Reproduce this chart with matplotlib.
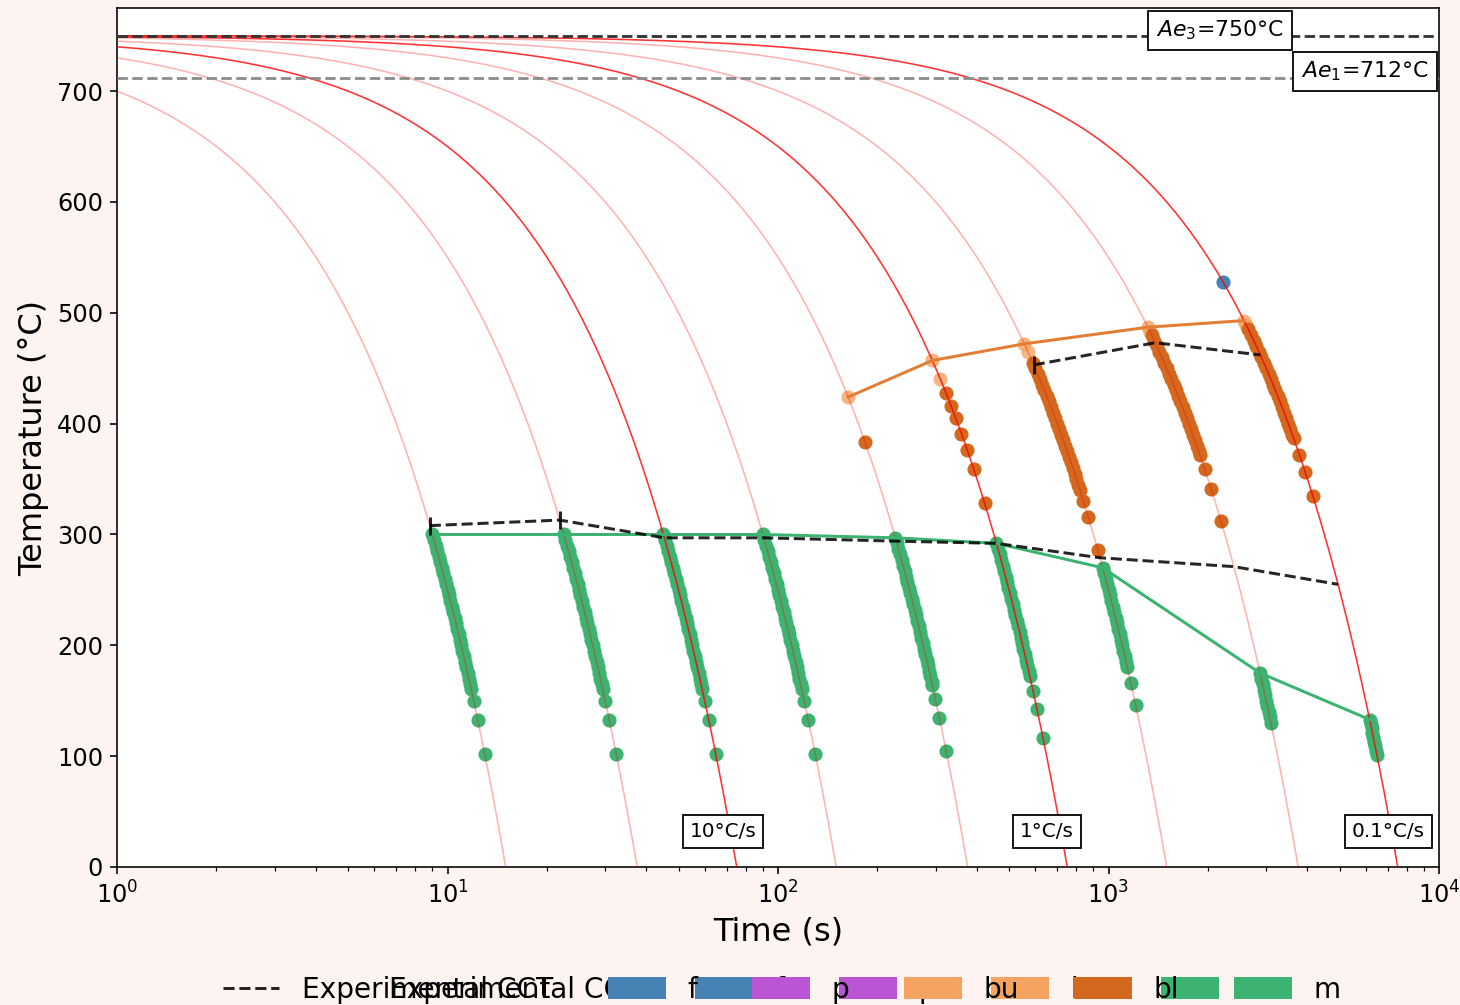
import numpy as np
import matplotlib.pyplot as plt
from matplotlib.lines import Line2D
from matplotlib.patches import Patch

# cooling rates (degC/s), all start at the austenitising temperature
T0 = 750
rates = [50, 20, 10, 5, 2, 1, 0.5, 0.2, 0.1]
bold_rates = [10, 1, 0.1]

Ae3 = 750
Ae1 = 712

# transformation temperatures (same order as rates)
f_temps = [[], [], [], [], [], [], [], [], [528]]
p_temps = [[], [], [], [], [], [], [], [], []]
bu_temps = [[], [], [], [], [424], [457, 440], [472, 465], [487, 483], [493, 489]]
bl_temps = [
    [], [], [], [],
    [383],
    [428, 416, 405, 391, 376, 359, 328],
    [455, 450, 445, 440, 435, 430, 425, 420, 415, 410, 405, 400, 395, 390, 385,
     380, 375, 370, 365, 360, 355, 350, 345, 340, 330, 316, 286],
    [480, 475, 470, 465, 460, 455, 450, 445, 440, 435, 430, 425, 420, 415, 410,
     405, 400, 395, 390, 385, 380, 375, 372, 359, 341, 312],
    [485, 480, 475, 470, 465, 460, 455, 450, 445, 440, 435, 430, 425, 420, 415,
     410, 405, 400, 395, 390, 387, 372, 356, 335],
]
m_temps = [
    [300, 295, 290, 285, 280, 275, 270, 265, 260, 255, 250, 245, 240, 235, 230,
     225, 220, 215, 210, 205, 200, 195, 190, 185, 180, 175, 170, 165, 161, 150,
     133, 102],
    [300, 295, 290, 285, 280, 275, 270, 265, 260, 255, 250, 245, 240, 235, 230,
     225, 220, 215, 210, 205, 200, 195, 190, 185, 180, 175, 170, 165, 161, 150,
     133, 102],
    [300, 295, 290, 285, 280, 275, 270, 265, 260, 255, 250, 245, 240, 235, 230,
     225, 220, 215, 210, 205, 200, 195, 190, 185, 180, 175, 170, 165, 161, 150,
     133, 102],
    [300, 295, 290, 285, 280, 275, 270, 265, 260, 255, 250, 245, 240, 235, 230,
     225, 220, 215, 210, 205, 200, 195, 190, 185, 180, 175, 170, 165, 161, 150,
     133, 102],
    [297, 292, 287, 282, 277, 272, 267, 262, 257, 252, 247, 242, 237, 232, 227,
     222, 217, 212, 207, 202, 197, 192, 187, 182, 177, 172, 167, 164, 152, 134,
     105],
    [292, 287, 282, 277, 272, 267, 262, 257, 252, 247, 242, 237, 232, 227, 222,
     217, 212, 207, 202, 197, 192, 187, 182, 177, 172, 159, 143, 116],
    [270, 265, 260, 255, 250, 245, 240, 235, 230, 225, 220, 215, 210, 205, 200,
     195, 190, 185, 180, 166, 146],
    [175, 170, 165, 160, 155, 150, 145, 140, 135, 130],
    [133, 129, 125, 121, 117, 113, 109, 105, 101],
]

# experimental CCT (rate, temperature)
exp_ms_rates = [50, 20, 10, 5, 2, 1, 0.5, 0.2, 0.1]
exp_ms_temps = [308, 313, 297, 297, 294, 292, 279, 271, 255]
exp_bs_rates = [0.5, 0.2, 0.1]
exp_bs_temps = [453, 473, 462]

phase_colors = {'f': 'steelblue', 'p': 'mediumorchid', 'bu': 'sandybrown',
                'bl': 'chocolate', 'm': 'mediumseagreen'}


def time_at(rate, temp):
    # time to reach temp on a linear cooling curve
    return (T0 - np.asarray(temp, dtype=float)) / rate


fig = plt.figure(figsize=(1460 / 144, 1005 / 144), dpi=144, facecolor='#fdf4f1')
ax = fig.add_axes([117 / 1460, 1 - 867 / 1005, 1322 / 1460, 859 / 1005])

# cooling curves
for r in rates:
    t = np.geomspace(0.5, T0 / r, 400)
    a = 0.8 if r in bold_rates else 0.3
    ax.plot(t, T0 - r * t, color='red', lw=0.8, alpha=a, zorder=3)

ax.axhline(Ae3, color='#333333', ls='--', lw=1.4, zorder=4)
ax.axhline(Ae1, color='#8c8c8c', ls='--', lw=1.4, zorder=4)

# phase points
for name, temps in [('f', f_temps), ('p', p_temps), ('bu', bu_temps),
                    ('bl', bl_temps), ('m', m_temps)]:
    for r, tl in zip(rates, temps):
        if len(tl) == 0:
            continue
        a = 0.8 if name == 'bu' else 1.0
        ax.scatter(time_at(r, tl), tl, s=50, color=phase_colors[name],
                   alpha=a, lw=0, zorder=2)

# start lines for bainite and martensite
bu_r = [r for r, tl in zip(rates, bu_temps) if tl]
bu_start = [max(tl) for tl in bu_temps if tl]
ax.plot([time_at(r, s) for r, s in zip(bu_r, bu_start)], bu_start,
        color='#e27d36', lw=1.5, zorder=4)
m_start = [max(tl) for tl in m_temps]
ax.plot([time_at(r, s) for r, s in zip(rates, m_start)], m_start,
        color='mediumseagreen', lw=1.5, zorder=4)

# experimental CCT
ax.plot([time_at(r, s) for r, s in zip(exp_ms_rates, exp_ms_temps)], exp_ms_temps,
        color='k', ls='--', lw=1.5, alpha=0.85, marker='|', markevery=[0, 1],
        ms=9, mew=1.5, zorder=5)
ax.plot([time_at(r, s) for r, s in zip(exp_bs_rates, exp_bs_temps)], exp_bs_temps,
        color='k', ls='--', lw=1.5, alpha=0.85, marker='|', markevery=[0],
        ms=9, mew=1.5, zorder=5)

box = dict(boxstyle='square,pad=0.35', fc='white', ec='black', lw=0.9)
ax.text(2174, 755, '$Ae_3$=750°C', fontsize=11, ha='center', va='center',
        bbox=box, zorder=6)
ax.text(5970, 718, '$Ae_1$=712°C', fontsize=11, ha='center', va='center',
        bbox=box, zorder=6)
for lbl, tx in [('10°C/s', 68.2), ('1°C/s', 652), ('0.1°C/s', 7014)]:
    ax.text(tx, 32, lbl, fontsize=10, ha='center', va='center', bbox=box, zorder=6)

ax.set_xscale('log')
ax.set_xlim(1, 1e4)
ax.set_ylim(0, 775)
ax.set_yticks(range(0, 701, 100))
ax.tick_params(labelsize=12)
ax.set_xlabel('Time (s)', fontsize=16)
ax.set_ylabel('Temperature (°C)', fontsize=16)

# legend (two overlapping copies, as in the original)
labels = ['f', 'p', 'bu', 'bl', 'm']
hA = [Line2D([], [], color='k', ls='--', lw=1.5, alpha=0.85)] + \
     [Patch(color=phase_colors[k]) for k in labels]
hB = [Line2D([], [], ls='none')] + \
     [Patch(color=phase_colors[k]) for k in ['f', 'p', 'bu', 'm']]
fig.legend(hB, ['Experimental CCT', 'f', 'p', 'bu', 'm'], loc='center left',
           bbox_to_anchor=(285 / 1460, 1 - 990 / 1005), ncol=5, frameon=False,
           fontsize=14, columnspacing=2.0)
fig.legend(hA, ['Experimental CCT'] + labels, loc='center left',
           bbox_to_anchor=(198 / 1460, 1 - 990 / 1005), ncol=6, frameon=False,
           fontsize=14, columnspacing=2.0)

plt.savefig('out.png', dpi=144, facecolor=fig.get_facecolor())
